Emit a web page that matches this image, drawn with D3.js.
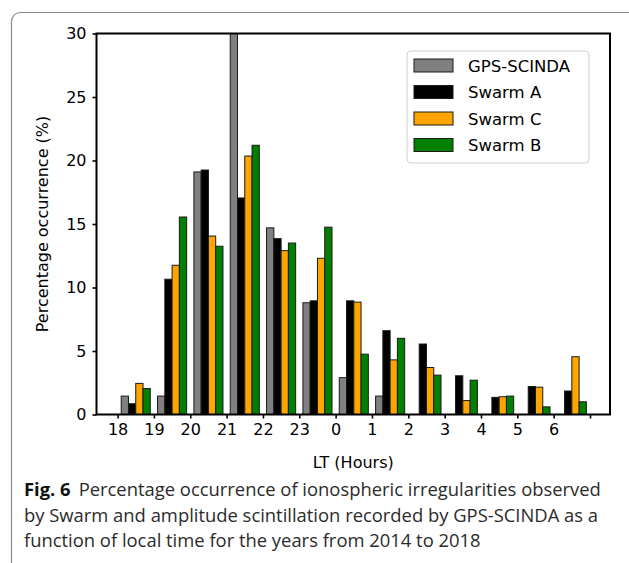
<!DOCTYPE html>
<html>
<head>
<meta charset="utf-8">
<script src="https://cdn.jsdelivr.net/npm/d3@7"></script>
<style>
  body { margin: 0; background: #fff; }
  svg { display: block; }
</style>
</head>
<body>
<svg id="drawing_region"></svg>
<script>
// local time bins
const hours = ['18', '19', '20', '21', '22', '23', '0', '1', '2', '3', '4', '5', '6'];
const yticks = [0, 5, 10, 15, 20, 25, 30];

// percentage occurrence (%)
const gpsScinda = [1.45, 1.45, 19.1, 30, 14.7, 8.8, 2.9, 1.45, 0, 0, 0, 0, 0];
const swarmA = [0.85, 10.65, 19.25, 17.05, 13.85, 8.95, 8.95, 6.6, 5.55, 3.05, 1.35, 2.2, 1.85];
const swarmC = [2.45, 11.75, 14.05, 20.35, 12.9, 12.3, 8.85, 4.3, 3.7, 1.1, 1.4, 2.15, 4.55];
const swarmB = [2.05, 15.55, 13.25, 21.2, 13.5, 14.75, 4.75, 6.0, 3.1, 2.7, 1.45, 0.6, 1.0];

const seriesNames = ['GPS-SCINDA', 'Swarm A', 'Swarm C', 'Swarm B'];
const seriesColors = ['#808080', '#000000', '#ffa500', '#008000'];

const captionLines = [
    'Percentage occurrence of ionospheric irregularities observed',
    'by Swarm and amplitude scintillation recorded by GPS-SCINDA as a',
    'function of local time for the years from 2014 to 2018'
];

const series = [gpsScinda, swarmA, swarmC, swarmB];

const svg = d3.select('#drawing_region')
    .attr('width', 629)
    .attr('height', 563);

// figure frame (rounded box, runs off the right/bottom edge)
svg.append('rect')
    .attr('x', 11.5).attr('y', 12.5)
    .attr('width', 640).attr('height', 580)
    .attr('rx', 9)
    .attr('fill', 'none')
    .attr('stroke', '#8a8a8a')
    .attr('stroke-width', 1.2);

const plot = { left: 96.5, right: 610, top: 33.5, bottom: 414.5 };

const xscale = d3.scaleLinear().domain([-0.58, 13.55]).range([plot.left, plot.right]);
const yscale = d3.scaleLinear().domain([0, 30]).range([plot.bottom, plot.top]);

svg.append('clipPath').attr('id', 'plotclip')
    .append('rect')
    .attr('x', plot.left).attr('y', plot.top)
    .attr('width', plot.right - plot.left).attr('height', plot.bottom - plot.top);

const chart = svg.append('g').attr('clip-path', 'url(#plotclip)');

const barW = 0.2;
series.forEach((vals, k) => {
    chart.append('g')
        .selectAll('rect')
        .data(vals.map((v, i) => ({ i: i, v: v })).filter(d => d.v > 0))
        .join('rect')
        .attr('x', d => xscale(d.i + 0.1 + k * barW))
        .attr('width', xscale(barW) - xscale(0))
        .attr('y', d => yscale(d.v))
        .attr('height', d => yscale(0) - yscale(d.v))
        .attr('fill', seriesColors[k])
        .attr('stroke', '#1a1a1a')
        .attr('stroke-width', 1);
});

// axes
const xaxis = d3.axisBottom(xscale)
    .tickValues(d3.range(14))
    .tickFormat(i => hours[i] || '')
    .tickSizeInner(4).tickSizeOuter(0).tickPadding(5);
const yaxis = d3.axisLeft(yscale)
    .tickValues(yticks)
    .tickSizeInner(4).tickSizeOuter(0).tickPadding(6);

const xg = svg.append('g')
    .attr('transform', `translate(0, ${plot.bottom})`)
    .call(xaxis);
const yg = svg.append('g')
    .attr('transform', `translate(${plot.left}, 0)`)
    .call(yaxis);

[xg, yg].forEach(g => {
    g.select('.domain').remove();
    g.selectAll('line').attr('stroke', '#000').attr('stroke-width', 1.6);
    g.selectAll('text')
        .attr('fill', '#000')
        .style('font-family', 'DejaVu Sans')
        .style('font-size', '16px');
});

// box spines
svg.append('rect')
    .attr('x', plot.left).attr('y', plot.top)
    .attr('width', plot.right - plot.left).attr('height', plot.bottom - plot.top)
    .attr('fill', 'none')
    .attr('stroke', '#000')
    .attr('stroke-width', 2);

// axis labels
svg.append('text')
    .attr('x', (plot.left + plot.right) / 2).attr('y', 468)
    .attr('text-anchor', 'middle')
    .style('font-family', 'DejaVu Sans').style('font-size', '16px')
    .text('LT (Hours)');

svg.append('text')
    .attr('transform', `translate(48, ${(plot.top + plot.bottom) / 2}) rotate(-90)`)
    .attr('text-anchor', 'middle')
    .style('font-family', 'DejaVu Sans').style('font-size', '16px')
    .text('Percentage occurrence (%)');

// legend
const legend = svg.append('g');
legend.append('rect')
    .attr('x', 407).attr('y', 51)
    .attr('width', 182).attr('height', 112)
    .attr('rx', 4)
    .attr('fill', '#fff')
    .attr('stroke', '#d0d0d0');

seriesNames.forEach((name, k) => {
    const y0 = 59 + k * 26.5;
    legend.append('rect')
        .attr('x', 414).attr('y', y0)
        .attr('width', 39).attr('height', 13)
        .attr('fill', seriesColors[k])
        .attr('stroke', '#1a1a1a');
    legend.append('text')
        .attr('x', 468).attr('y', y0 + 12.5)
        .style('font-family', 'DejaVu Sans').style('font-size', '16.5px')
        .text(name);
});

// caption
const cap = svg.append('g')
    .style('font-family', 'Open Sans')
    .style('font-size', '18.4px')
    .attr('fill', '#2b2b2b');

const l1 = cap.append('text').attr('x', 24).attr('y', 496);
l1.append('tspan').style('font-weight', 'bold').attr('fill', '#111').text('Fig. 6');
l1.append('tspan').attr('dx', 8).text(captionLines[0]);
cap.append('text').attr('x', 24).attr('y', 521.5).text(captionLines[1]);
cap.append('text').attr('x', 24).attr('y', 546.5).text(captionLines[2]);
</script>
</body>
</html>
